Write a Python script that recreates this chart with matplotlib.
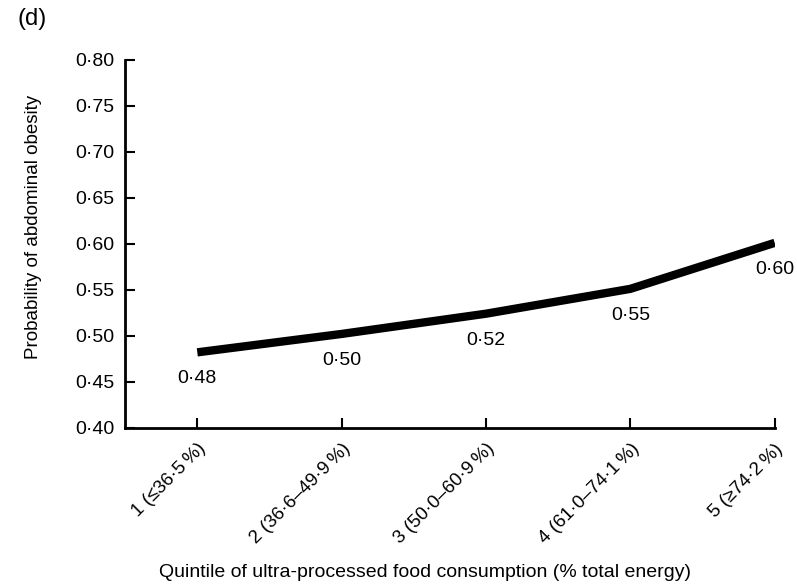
import matplotlib.pyplot as plt
import numpy as np

plt.rcParams['font.family'] = ['Liberation Sans', 'DejaVu Sans']

# Données
quintiles = [1, 2, 3, 4, 5]
xlabels = ["1 (≤36·5\u2009%)", "2 (36·6–49·9\u2009%)", "3 (50·0–60·9\u2009%)",
           "4 (61·0–74·1\u2009%)", "5 (≥74·2\u2009%)"]
prob = [0.482, 0.502, 0.524, 0.551, 0.601]
prob_txt = ["0·48", "0·50", "0·52", "0·55", "0·60"]
yticks = [0.40, 0.45, 0.50, 0.55, 0.60, 0.65, 0.70, 0.75, 0.80]

fig = plt.figure(figsize=(7.97, 5.86), dpi=100)
ax = fig.add_axes([0.157, 0.27, 0.815, 0.628])

ax.plot(quintiles, prob, color="black", lw=6, solid_capstyle="butt")

for x, y, t in zip(quintiles, prob, prob_txt):
    ax.annotate(t, (x, y), xytext=(0, -13), textcoords="offset points",
                ha="center", va="top", fontsize=14)

ax.set_xlim(0.5, 5.0)
ax.set_ylim(0.40, 0.80)
ax.set_yticks(yticks)
ax.set_yticklabels([f"{v:.2f}".replace(".", "·") for v in yticks], fontsize=14)
ax.set_xticks(quintiles)
ax.set_xticklabels(xlabels, rotation=45, ha="right", rotation_mode="anchor", fontsize=13.5)

for s in ["top", "right"]:
    ax.spines[s].set_visible(False)
for s in ["left", "bottom"]:
    ax.spines[s].set_linewidth(2)
ax.tick_params(direction="in", length=7, width=1.5, pad=8)
ax.tick_params(axis="x", pad=9)

ax.set_ylabel("Probability of abdominal obesity", fontsize=13.5)
ax.yaxis.set_label_coords(-0.128, 0.546)
ax.set_xlabel("Quintile of ultra-processed food consumption (% total energy)",
              fontsize=14, va="center")
ax.xaxis.set_label_coords(0.4615, -0.394)
fig.text(0.022, 0.968, "(d)", fontsize=17, va="center")

fig.savefig("out.png", dpi=100)
